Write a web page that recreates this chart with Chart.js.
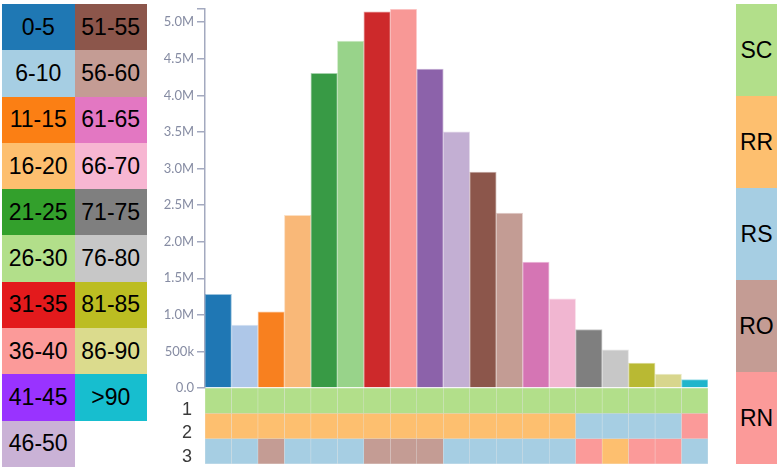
<!DOCTYPE html>
<html>
<head>
<meta charset="utf-8">
<script src="https://cdn.jsdelivr.net/npm/chart.js@4.4.0/dist/chart.umd.min.js"></script>
<style>
  body { margin: 0; width: 781px; height: 468px; background: #fff; position: relative; overflow: hidden; font-family: "Liberation Sans", Arial, sans-serif; }
  #leyendaEdad { position: absolute; left: 2px; top: 4px; display: grid; grid-template-columns: 72.5px 72.5px; grid-template-rows: repeat(10, 46.3px); grid-auto-flow: column; }
  #leyendaTipo { position: absolute; left: 736px; top: 4px; width: 41px; }
  .celda { display: flex; align-items: center; justify-content: center; font-size: 23px; color: #000; }
  .tipo { height: 92px; display: flex; align-items: center; justify-content: center; font-size: 23px; color: #000; }
  #contenedor { position: absolute; left: 155px; top: 0; width: 553px; height: 468px; }
</style>
</head>
<body>
<div id="leyendaEdad"></div>
<div id="leyendaTipo"></div>
<div id="contenedor"><canvas id="graficoCanvas"></canvas></div>
<script>
const edades = ['0-5', '6-10', '11-15', '16-20', '21-25', '26-30', '31-35', '36-40', '41-45', '46-50',
  '51-55', '56-60', '61-65', '66-70', '71-75', '76-80', '81-85', '86-90', '>90'];
const poblacion = [1280000, 860000, 1040000, 2360000, 4300000, 4740000, 5140000, 5180000, 4360000, 3500000,
  2950000, 2390000, 1720000, 1220000, 800000, 520000, 340000, 190000, 115000];
const coloresBarras = ['#1f77b4', '#aec7e8', '#f8801f', '#f9b878', '#389a45', '#98d38a', '#cd292b', '#f89896', '#8c62aa', '#c3afd3',
  '#8c564b', '#c39c94', '#d575b4', '#f1b6d1', '#7f7f7f', '#c7c7c7', '#b9b933', '#d8d68d', '#1fb5cb'];
const coloresLeyenda = ['#1f78b4', '#a6cee3', '#fb7f14', '#fdbf6f', '#33a02c', '#b2df8a', '#e31a1c', '#fb9a99', '#9933ff', '#cab2d6',
  '#8c564b', '#c49c94', '#e377c2', '#f7b6d2', '#7f7f7f', '#c7c7c7', '#bcbd22', '#dbdb8d', '#17becf'];

const tipos = ['SC', 'RR', 'RS', 'RO', 'RN'];
const coloresTipo = ['#b2df8a', '#fdbf6f', '#a6cee3', '#c49c94', '#fb9a99'];

const fila1 = ['SC', 'SC', 'SC', 'SC', 'SC', 'SC', 'SC', 'SC', 'SC', 'SC', 'SC', 'SC', 'SC', 'SC', 'SC', 'SC', 'SC', 'SC', 'SC'];
const fila2 = ['RR', 'RR', 'RR', 'RR', 'RR', 'RR', 'RR', 'RR', 'RR', 'RR', 'RR', 'RR', 'RR', 'RR', 'RS', 'RS', 'RS', 'RS', 'RN'];
const fila3 = ['RS', 'RS', 'RO', 'RS', 'RS', 'RS', 'RO', 'RO', 'RO', 'RS', 'RS', 'RS', 'RS', 'RS', 'RN', 'RR', 'RN', 'RN', 'RS'];
const nombresFilas = ['1', '2', '3'];

const valoresTicks = [0, 500000, 1000000, 1500000, 2000000, 2500000, 3000000, 3500000, 4000000, 4500000, 5000000];
const etiquetasTicks = ['0.0', '500k', '1.0M', '1.5M', '2.0M', '2.5M', '3.0M', '3.5M', '4.0M', '4.5M', '5.0M'];

function conAlfa(hex, a) {
  const r = parseInt(hex.slice(1, 3), 16), g = parseInt(hex.slice(3, 5), 16), b = parseInt(hex.slice(5, 7), 16);
  return `rgba(${r},${g},${b},${a})`;
}

function generarLeyendas() {
  const izq = document.getElementById('leyendaEdad');
  edades.forEach((edad, i) => {
    const div = document.createElement('div');
    div.className = 'celda';
    div.style.background = coloresLeyenda[i];
    div.textContent = edad;
    izq.appendChild(div);
  });
  const der = document.getElementById('leyendaTipo');
  tipos.forEach((tipo, i) => {
    const div = document.createElement('div');
    div.className = 'tipo';
    div.style.background = coloresTipo[i];
    div.textContent = tipo;
    der.appendChild(div);
  });
}

function generarGrafico() {
  const filas = [fila1, fila2, fila3];
  // cada fila de celdas = barras flotantes [i, i+1] en el eje de filas
  const datasetsFilas = filas.map((fila, i) => ({
    label: 'fila ' + nombresFilas[i],
    data: fila.map(() => [i, i + 1]),
    backgroundColor: fila.map(t => coloresTipo[tipos.indexOf(t)]),
    borderColor: 'rgba(0,0,0,0.07)',
    borderWidth: 0.5,
    borderSkipped: false,
    yAxisID: 'yFila',
    grouped: false,
    categoryPercentage: 1,
    barPercentage: 1
  }));

  const ctx = document.getElementById('graficoCanvas').getContext('2d');
  new Chart(ctx, {
    type: 'bar',
    data: {
      labels: edades,
      datasets: [{
        label: 'Población',
        data: poblacion,
        backgroundColor: coloresBarras,
        borderColor: coloresBarras.map(c => conAlfa(c, 0.45)),
        borderWidth: 1,
        yAxisID: 'y',
        grouped: false,
        categoryPercentage: 1,
        barPercentage: 1
      }].concat(datasetsFilas)
    },
    options: {
      responsive: true,
      maintainAspectRatio: false,
      animation: false,
      layout: { padding: { top: 9, bottom: 4, left: 0, right: 0 } },
      plugins: { legend: { display: false }, tooltip: { enabled: false } },
      scales: {
        x: { display: false },
        yFila: {
          type: 'linear',
          position: 'left',
          stack: 'izq',
          stackWeight: 76,
          min: 0,
          max: 3,
          reverse: true,
          grid: { display: false, drawTicks: false },
          border: { display: false },
          ticks: {
            autoSkip: false,
            color: '#3a3a3a',
            font: { family: 'Liberation Sans', size: 18 },
            padding: 13,
            callback: (v) => nombresFilas[Math.floor(v)]
          },
          afterBuildTicks: s => { s.ticks = [{ value: 0.85 }, { value: 1.78 }, { value: 2.72 }]; },
          afterFit: s => { s.width = 50; s.paddingTop = 0; s.paddingBottom = 0; }
        },
        y: {
          type: 'linear',
          position: 'left',
          stack: 'izq',
          stackWeight: 379,
          min: 0,
          max: Math.max(...poblacion),
          grid: { drawOnChartArea: false, color: '#a3a9bf', lineWidth: 1.5, tickLength: 8 },
          border: { color: '#a3a9bf', width: 1.5 },
          ticks: {
            autoSkip: false,
            color: '#868ca3',
            font: { family: 'Lato', size: 13 },
            padding: 3,
            callback: (v) => {
              const i = valoresTicks.indexOf(v);
              return i >= 0 ? etiquetasTicks[i] : '';
            }
          },
          afterBuildTicks: s => { s.ticks = valoresTicks.map(v => ({ value: v })).concat([{ value: s.max }]); },
          afterFit: s => { s.width = 50; s.paddingTop = 0; s.paddingBottom = 0; }
        }
      }
    }
  });
}

generarLeyendas();
generarGrafico();
</script>
</body>
</html>
